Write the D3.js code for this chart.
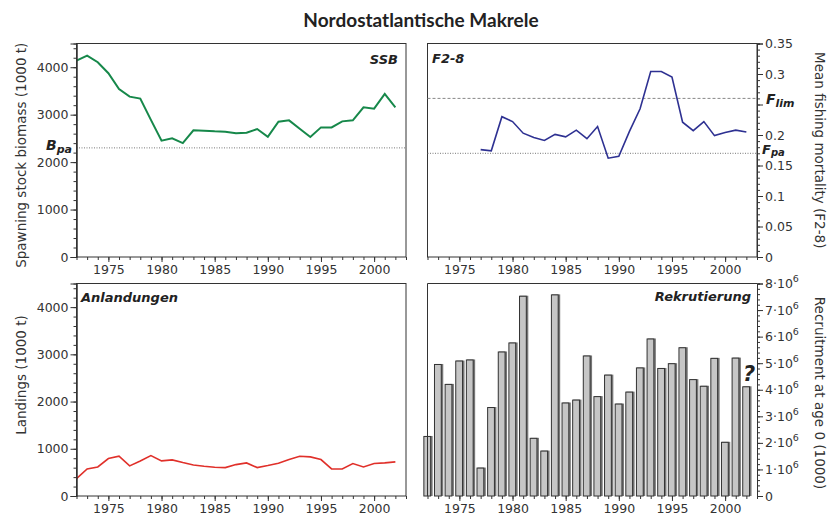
<!DOCTYPE html>
<html><head><meta charset="utf-8">
<script src="https://cdn.jsdelivr.net/npm/d3@7"></script>
<style>body{margin:0;background:#fff}svg{display:block}text{font-family:"DejaVu Sans",Verdana,sans-serif;fill:#333}</style>
</head><body><svg id="c" width="831" height="516"></svg>
<script>
const ssbYears = d3.range(1972, 2003);
const ssbValues = [4140,4246,4106,3873,3542,3380,3338,2890,2451,2500,2401,2669,2662,2648,2641,2606,2620,2697,2535,2852,2880,2704,2528,2732,2732,2859,2880,3155,3127,3437,3155];
const fYears = d3.range(1977, 2003);
const fValues = [0.176,0.174,0.230,0.222,0.203,0.196,0.191,0.201,0.197,0.208,0.194,0.214,0.162,0.165,0.206,0.243,0.304,0.304,0.295,0.221,0.207,0.222,0.199,0.204,0.208,0.205];
const landYears = d3.range(1972, 2003);
const landValues = [368,573,616,793,842,637,743,857,743,765,708,658,630,609,602,665,701,602,644,694,772,842,828,772,573,573,687,616,687,701,722];
const recYears = d3.range(1972, 2003);
const recValues = [2.26e6,4.97e6,4.22e6,5.10e6,5.14e6,1.07e6,3.35e6,5.44e6,5.78e6,7.54e6,2.19e6,1.71e6,7.59e6,3.52e6,3.63e6,5.29e6,3.76e6,4.57e6,3.48e6,3.93e6,4.84e6,5.93e6,4.82e6,5.00e6,5.60e6,4.40e6,4.15e6,5.20e6,2.04e6,5.21e6,4.13e6];
const yearTicks = [1975,1980,1985,1990,1995,2000];
const ssbTicks = [0,1000,2000,3000,4000];
const fTicks = [0,0.05,0.1,0.15,0.2,0.25,0.3,0.35];
const fTickLabels = ["0","0.05","0.1","0.15","0.2","","0.3","0.35"];
const recTicks = [0,1e6,2e6,3e6,4e6,5e6,6e6,7e6,8e6];
const Bpa = 2300, Flim = 0.26, Fpa = 0.17;

const FONT = "DejaVu Sans, Verdana, sans-serif";
const svg = d3.select("#c");
svg.append("text").attr("x",421).attr("y",27).attr("text-anchor","middle")
  .style("font-family","Lato, 'Open Sans', sans-serif").style("font-weight","700").style("font-size","19px").style("fill","#222")
  .text("Nordostatlantische Makrele");

const L = {x0:76.5, x1:406}, R = {x0:427.5, x1:757};
const T = {y0:43.5, y1:257}, B = {y0:283.5, y1:496};
const xdom = [1972, 2003];

function frame(x0,x1,y0,y1){
  svg.append("rect").attr("x",x0).attr("y",y0).attr("width",x1-x0).attr("height",y1-y0)
    .attr("fill","none").attr("stroke","#333").attr("stroke-width",1);
}
function styleAxis(s){
  s.attr("font-family",FONT).attr("font-size",12.5);
  s.selectAll("line").attr("stroke","#333");
  s.selectAll("text").attr("fill","#333").style("font-family",FONT).style("font-size","12.5px");
}
function xAxis(x, y){
  const g = svg.append("g").attr("transform",`translate(0,${y})`);
  g.call(d3.axisBottom(x).tickValues(d3.range(1972,2004)).tickSize(3).tickFormat(""));
  const g2 = svg.append("g").attr("transform",`translate(0,${y})`);
  g2.call(d3.axisBottom(x).tickValues(yearTicks).tickSize(5).tickFormat(d3.format("d")).tickPadding(3));
  [g,g2].forEach(s=>{s.select(".domain").remove(); styleAxis(s);});
}
function yAxis(y, x, side, major, minor, fmt){
  const mk = side==="left" ? d3.axisLeft : d3.axisRight;
  const g = svg.append("g").attr("transform",`translate(${x},0)`);
  g.call(mk(y).tickValues(minor).tickSize(3).tickFormat(""));
  const g2 = svg.append("g").attr("transform",`translate(${x},0)`);
  g2.call(mk(y).tickValues(major).tickSize(6).tickPadding(2).tickFormat(fmt));
  [g,g2].forEach(s=>{s.select(".domain").attr("stroke","#333"); styleAxis(s);});
  return g2;
}
function bi(x,y,size,anchor){
  return svg.append("text").attr("x",x).attr("y",y).attr("text-anchor",anchor||"start")
    .style("font-family",FONT).style("font-weight","bold").style("font-style","italic").style("font-size",size+"px").style("fill","#222");
}

// ---- SSB panel
{
  const x = d3.scaleLinear().domain(xdom).range([L.x0,L.x1]);
  const y = d3.scaleLinear().domain([0,4500]).range([T.y1,T.y0]);
  frame(L.x0,L.x1,T.y0,T.y1);
  svg.append("line").attr("x1",L.x0).attr("x2",L.x1).attr("y1",y(Bpa)).attr("y2",y(Bpa))
    .attr("stroke","#777").attr("stroke-dasharray","1,1.5");
  svg.append("path").datum(ssbYears.map((d,i)=>[d,ssbValues[i]]))
    .attr("d",d3.line().x(d=>x(d[0])).y(d=>y(d[1]))).attr("fill","none").attr("stroke","#16884a").attr("stroke-width",2);
  xAxis(x, T.y1);
  yAxis(y, L.x0, "left", ssbTicks, d3.range(0,4501,200), d3.format("d"));
  const t = bi(46, y(Bpa)+2, 14);
  t.append("tspan").text("B");
  t.append("tspan").attr("dy",3).style("font-size","11px").text("pa");
  bi(398,64,13,"end").text("SSB");
  svg.append("text").attr("transform",`translate(26,${(T.y0+T.y1)/2 + 5}) rotate(-90)`).attr("text-anchor","middle").style("font-size","13.5px").style("fill","#333").text("Spawning stock biomass (1000 t)");
}
// ---- F panel
{
  const x = d3.scaleLinear().domain(xdom).range([R.x0,R.x1]);
  const y = d3.scaleLinear().domain([0,0.35]).range([T.y1,T.y0]);
  frame(R.x0,R.x1,T.y0,T.y1);
  svg.append("line").attr("x1",R.x0).attr("x2",R.x1).attr("y1",y(Flim)).attr("y2",y(Flim))
    .attr("stroke","#888").attr("stroke-dasharray","3,2");
  svg.append("line").attr("x1",R.x0).attr("x2",R.x1).attr("y1",y(Fpa)).attr("y2",y(Fpa))
    .attr("stroke","#777").attr("stroke-dasharray","1,1.5");
  svg.append("path").datum(fYears.map((d,i)=>[d,fValues[i]]))
    .attr("d",d3.line().x(d=>x(d[0])).y(d=>y(d[1]))).attr("fill","none").attr("stroke","#2e3192").attr("stroke-width",1.6);
  xAxis(x, T.y1);
  yAxis(y, R.x1, "right", fTicks, d3.range(0,36).map(i=>i/100), (d)=>fTickLabels[fTicks.indexOf(d)]);
  let t = bi(766, y(Flim)+6, 14);
  t.append("tspan").text("F");
  t.append("tspan").attr("dy",3).style("font-size","11px").text("lim");
  t = bi(762, y(Fpa)+1, 13);
  t.append("tspan").text("F");
  t.append("tspan").attr("dy",2).style("font-size","10px").text("pa");
  bi(432,63,13).text("F2-8");
  svg.append("text").attr("transform",`translate(815,${(T.y0+T.y1)/2}) rotate(90)`).attr("text-anchor","middle").style("font-size","13.5px").style("fill","#333").text("Mean fishing mortality (F2-8)");
}
// ---- Landings panel
{
  const x = d3.scaleLinear().domain(xdom).range([L.x0,L.x1]);
  const y = d3.scaleLinear().domain([0,4500]).range([B.y1,B.y0]);
  frame(L.x0,L.x1,B.y0,B.y1);
  svg.append("path").datum(landYears.map((d,i)=>[d,landValues[i]]))
    .attr("d",d3.line().x(d=>x(d[0])).y(d=>y(d[1]))).attr("fill","none").attr("stroke","#e0302a").attr("stroke-width",1.6);
  xAxis(x, B.y1);
  yAxis(y, L.x0, "left", ssbTicks, d3.range(0,4501,200), d3.format("d"));
  bi(81,302,13).text("Anlandungen");
  svg.append("text").attr("transform",`translate(26,375) rotate(-90)`).attr("text-anchor","middle").style("font-size","13.5px").style("fill","#333").text("Landings (1000 t)");
}
// ---- Recruitment panel
{
  const x = d3.scaleLinear().domain(xdom).range([R.x0,R.x1]);
  const y = d3.scaleLinear().domain([0,8e6]).range([B.y1,B.y0]);
  const bw = (x(1973)-x(1972))*0.78;
  svg.append("g").selectAll("rect").data(recYears).join("rect")
    .attr("x",(d)=>x(d)-bw/2+1).attr("y",(d,i)=>y(recValues[i])).attr("width",bw).attr("height",(d,i)=>B.y1-y(recValues[i]))
    .attr("fill","#777");
  svg.append("g").selectAll("rect").data(recYears).join("rect")
    .attr("x",(d)=>x(d)-bw/2+0.5).attr("y",(d,i)=>y(recValues[i])+0.5).attr("width",bw-1.5).attr("height",(d,i)=>B.y1-y(recValues[i])-0.5)
    .attr("fill","#c6c6c6").attr("stroke","#333").attr("stroke-width",1);
  svg.append("path").attr("d",`M${R.x0},${B.y1}V${B.y0}H${R.x1}`).attr("fill","none").attr("stroke","#333");
  xAxis(x, B.y1);
  const g = yAxis(y, R.x1, "right", recTicks, d3.range(0,8.01e6,2e5), ()=>"");
  g.selectAll("text").each(function(d){
    const t = d3.select(this);
    if(d===0){t.text("0");return;}
    t.append("tspan").text((d/1e6)+"·10");
    t.append("tspan").attr("dy",-6).style("font-size","9.5px").text("6");
  });
  bi(751,301,13,"end").text("Rekrutierung");
  bi(743,381,21).text("?");
  svg.append("text").attr("transform",`translate(815,393) rotate(90)`).attr("text-anchor","middle").style("font-size","13.5px").style("fill","#333").text("Recruitment at age 0 (1000)");
}
</script></body></html>
